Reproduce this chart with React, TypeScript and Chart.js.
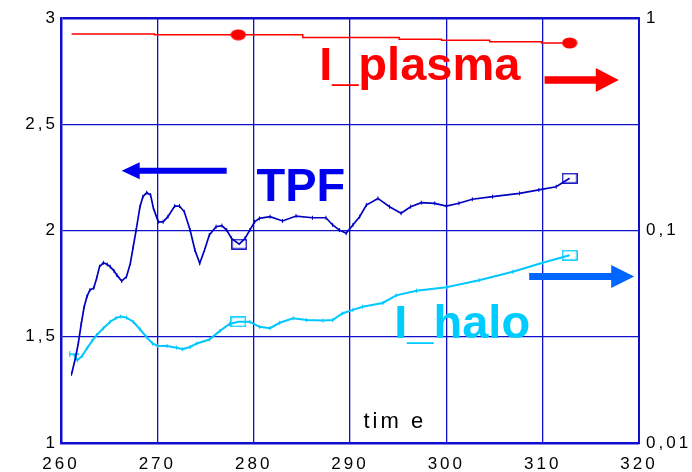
import React, { useEffect, useRef } from 'react';
import { Chart, registerables } from 'chart.js';
Chart.register(...registerables);

// Axis ticks
const xTicks = [260, 270, 280, 290, 300, 310, 320];
const leftTicks = [1, 1.5, 2, 2.5, 3];
const leftTickLabels = ['1', '1,5', '2', '2,5', '3'];
const rightTicks = [0.01, 0.1, 1];
const rightTickLabels = ['0,01', '0,1', '1'];

// TPF (left axis)
const tpfTime = [261.1, 261.5, 261.8, 262.1, 262.4, 262.7, 263.0, 263.4, 263.7, 264.0, 264.4, 264.8, 265.1, 265.5, 265.8, 266.3, 266.8, 267.2, 267.5, 267.8, 268.2, 268.5, 268.9, 269.3, 269.6, 270.1, 270.6, 271.1, 271.8, 272.3, 272.8, 273.4, 273.9, 274.4, 274.9, 275.4, 276.1, 276.7, 277.2, 277.7, 278.5, 279.1, 279.6, 280.1, 280.6, 281.7, 283.0, 284.4, 286.1, 287.5, 288.2, 288.9, 289.6, 290.3, 291.0, 291.7, 292.9, 294.1, 295.3, 296.3, 297.4, 298.8, 300.0, 301.3, 302.7, 304.8, 307.6, 309.6, 311.4, 312.8];
const tpfValue = [1.325, 1.40, 1.47, 1.56, 1.64, 1.69, 1.72, 1.73, 1.775, 1.83, 1.848, 1.84, 1.83, 1.81, 1.79, 1.762, 1.783, 1.846, 1.924, 2.002, 2.112, 2.159, 2.178, 2.167, 2.104, 2.041, 2.041, 2.065, 2.115, 2.115, 2.088, 2.002, 1.908, 1.846, 1.908, 1.979, 2.018, 2.023, 2.002, 1.963, 1.936, 1.963, 2.002, 2.041, 2.057, 2.065, 2.045, 2.068, 2.06, 2.06, 2.026, 2.002, 1.987, 2.026, 2.065, 2.12, 2.151, 2.112, 2.081, 2.112, 2.131, 2.128, 2.115, 2.128, 2.147, 2.159, 2.175, 2.191, 2.206, 2.246];
const tpfSquareAt = [278.5, 312.8];

// I_halo (right log axis)
const haloTime = [261.3, 261.7, 262.2, 262.7, 263.2, 263.7, 264.4, 265.1, 265.7, 266.2, 266.8, 267.5, 268.2, 268.9, 269.5, 270.0, 271.0, 272.0, 272.6, 273.4, 274.1, 275.4, 276.5, 277.5, 278.4, 279.6, 280.6, 281.7, 282.7, 284.1, 285.5, 287.2, 288.2, 289.2, 290.3, 291.3, 293.4, 294.8, 296.9, 300.0, 303.4, 306.9, 310.0, 312.8];
const haloValue = [0.0262, 0.0245, 0.0257, 0.0279, 0.0301, 0.0322, 0.0347, 0.0372, 0.0387, 0.0394, 0.0389, 0.0372, 0.0343, 0.0314, 0.0294, 0.0287, 0.0286, 0.0281, 0.0276, 0.0283, 0.0294, 0.0307, 0.0337, 0.0363, 0.0372, 0.0372, 0.0352, 0.0347, 0.0368, 0.0386, 0.0379, 0.0377, 0.0379, 0.0407, 0.0423, 0.0438, 0.0456, 0.0495, 0.0521, 0.0541, 0.0583, 0.0640, 0.0705, 0.0765];
const haloSquareAt = [278.4, 312.8];
const haloStartAt = [261.3];

// I_plasma (right log axis)
const plasmaTime = [261.1, 269.7, 278.4, 285.1, 295.1, 299.5, 304.5, 309.9, 312.8];
const plasmaValue = [0.841, 0.834, 0.834, 0.81, 0.794, 0.785, 0.774, 0.763, 0.763];
const plasmaDotAt = [278.4, 312.8];

const GRID = '#1010cc';
const FONT = '"Liberation Sans", Arial, Helvetica, sans-serif';

function makeRect(color: string) {
  const c = document.createElement('canvas');
  c.width = 16; c.height = 11;
  const g = c.getContext('2d')!;
  g.strokeStyle = color; g.lineWidth = 1.4;
  g.strokeRect(0.8, 0.8, 14.4, 9.4);
  return c;
}
function makeDot(color: string) {
  const c = document.createElement('canvas');
  c.width = 16; c.height = 12;
  const g = c.getContext('2d')!;
  g.fillStyle = color;
  g.beginPath(); g.ellipse(8, 6, 7.6, 5.6, 0, 0, Math.PI * 2); g.fill();
  return c;
}
function makeH(color: string) {
  const c = document.createElement('canvas');
  c.width = 10; c.height = 8;
  const g = c.getContext('2d')!;
  g.strokeStyle = color; g.lineWidth = 1.3;
  g.beginPath();
  g.moveTo(0, 4); g.lineTo(10, 4);
  g.moveTo(1, 1); g.lineTo(1, 7);
  g.stroke();
  return c;
}

function drawArrow(ctx: CanvasRenderingContext2D, tail: number, tip: number, y: number, color: string, shaft: number, headLen: number, headH: number) {
  const dir = tip > tail ? 1 : -1;
  const base = tip - dir * headLen;
  ctx.fillStyle = color;
  ctx.beginPath();
  ctx.moveTo(tail, y - shaft / 2);
  ctx.lineTo(base, y - shaft / 2);
  ctx.lineTo(base, y - headH / 2);
  ctx.lineTo(tip, y);
  ctx.lineTo(base, y + headH / 2);
  ctx.lineTo(base, y + shaft / 2);
  ctx.lineTo(tail, y + shaft / 2);
  ctx.closePath();
  ctx.fill();
}

const labelPlugin = {
  id: 'labels',
  beforeDraw(chart: any) {
    (chart.ctx as any).letterSpacing = '3px';
  },
  afterDraw(chart: any) {
    const ctx: CanvasRenderingContext2D = chart.ctx;
    const xs = chart.scales.x;
    const ys = chart.scales.y;
    const px = (v: number) => xs.getPixelForValue(v);
    const py = (v: number) => ys.getPixelForValue(v);
    ctx.save();
    (ctx as any).letterSpacing = '0px';
    ctx.textAlign = 'left';
    ctx.textBaseline = 'alphabetic';
    ctx.font = `bold 47px ${FONT}`;
    ctx.fillStyle = '#ff0000';
    ctx.fillText('I_plasma', px(286.8), py(2.708));
    ctx.fillStyle = '#0000ee';
    ctx.fillText('TPF', px(280.3), py(2.139));
    ctx.fillStyle = '#00ccff';
    ctx.fillText('I_halo', px(294.6), py(1.494));

    drawArrow(ctx, px(277.2), px(266.3), py(2.281), '#0000ee', 6, 18, 17);
    drawArrow(ctx, px(310.2), px(317.9), py(2.708), '#ff0000', 7.5, 23, 24);
    drawArrow(ctx, px(308.6), px(319.5), py(1.783), '#0066ff', 7, 23, 23);

    (ctx as any).letterSpacing = '3px';
    ctx.font = `22px ${FONT}`;
    ctx.fillStyle = '#000000';
    ctx.fillText('tim e', px(291.4), py(1.071));
    ctx.restore();
  },
};

export default function App() {
  const ref = useRef<HTMLCanvasElement>(null);
  useEffect(() => {
    const rectBlue = makeRect('#0000c0');
    const rectCyan = makeRect('#00c8ff');
    const dotRed = makeDot('#ff0000');
    const hCyan = makeH('#00c8ff');

    const tpfData = tpfTime.map((t, i) => ({ x: t, y: tpfValue[i] }));
    const haloData = haloTime.map((t, i) => ({ x: t, y: haloValue[i] }));
    const plasmaData = plasmaTime.map((t, i) => ({ x: t, y: plasmaValue[i] }));

    const chart = new Chart(ref.current!, {
      type: 'line',
      data: {
        datasets: [
          {
            label: 'I_plasma',
            data: plasmaData,
            yAxisID: 'y2',
            borderColor: '#ff0000',
            borderWidth: 1.5,
            stepped: true,
            pointStyle: (c: any) => (plasmaDotAt.includes(plasmaTime[c.dataIndex]) ? dotRed : 'circle'),
            pointRadius: (c: any) => (plasmaDotAt.includes(plasmaTime[c.dataIndex]) ? 5 : 0),
          },
          {
            label: 'TPF',
            data: tpfData,
            yAxisID: 'y',
            borderColor: '#0000c0',
            borderWidth: 1.7,
            pointStyle: (c: any) => (tpfSquareAt.includes(tpfTime[c.dataIndex]) ? rectBlue : 'line'),
            pointRotation: (c: any) => (tpfSquareAt.includes(tpfTime[c.dataIndex]) ? 0 : 90),
            pointRadius: 2,
            pointBorderWidth: 1,
            pointBorderColor: '#0000c0',
            pointBackgroundColor: '#0000c0',
          },
          {
            label: 'I_halo',
            data: haloData,
            yAxisID: 'y2',
            borderColor: '#00c8ff',
            borderWidth: 2,
            pointStyle: (c: any) => {
              const t = haloTime[c.dataIndex];
              if (haloSquareAt.includes(t)) return rectCyan;
              if (haloStartAt.includes(t)) return hCyan;
              return 'line';
            },
            pointRotation: (c: any) => {
              const t = haloTime[c.dataIndex];
              return haloSquareAt.includes(t) || haloStartAt.includes(t) ? 0 : 90;
            },
            pointRadius: 2,
            pointBorderWidth: 1,
            pointBorderColor: '#00c8ff',
            pointBackgroundColor: '#00c8ff',
          },
        ],
      },
      options: {
        responsive: false,
        animation: false,
        layout: { padding: { top: 18, left: 0, right: 0, bottom: 0 } },
        plugins: { legend: { display: false }, tooltip: { enabled: false } },
        scales: {
          x: {
            type: 'linear',
            min: 260,
            max: 320,
            afterBuildTicks: (s: any) => { s.ticks = xTicks.map((v) => ({ value: v })); },
            afterFit: (s: any) => { s.height = 29; },
            grid: { color: GRID, lineWidth: 1.3, drawTicks: false },
            border: { display: true, color: GRID, width: 2.5 },
            ticks: {
              padding: 11,
              color: '#000',
              font: { family: FONT, size: 17 },
              autoSkip: false,
              maxRotation: 0,
              callback: (v: any) => String(v),
            },
          },
          y: {
            type: 'linear',
            position: 'left',
            min: 1,
            max: 3,
            afterBuildTicks: (s: any) => { s.ticks = leftTicks.map((v) => ({ value: v })); },
            afterFit: (s: any) => { s.width = 61; },
            grid: {
              color: GRID,
              lineWidth: (c: any) => (c.tick && c.tick.value === 3 ? 2.5 : 1.3),
              drawTicks: false,
            },
            border: { display: true, color: GRID, width: 2.5 },
            ticks: {
              padding: 3,
              color: '#000',
              font: { family: FONT, size: 17 },
              callback: (v: any) => leftTickLabels[leftTicks.indexOf(Number(v))],
            },
          },
          y2: {
            type: 'logarithmic',
            position: 'right',
            min: 0.01,
            max: 1,
            afterBuildTicks: (s: any) => { s.ticks = rightTicks.map((v) => ({ value: v })); },
            afterFit: (s: any) => { s.width = 53; },
            grid: { display: false, drawOnChartArea: false, drawTicks: false },
            border: { display: true, color: GRID, width: 2 },
            ticks: {
              padding: 7,
              color: '#000',
              font: { family: FONT, size: 17 },
              callback: (v: any) => rightTickLabels[rightTicks.findIndex((r) => Math.abs(r - Number(v)) < 1e-9)],
            },
          },
        },
      },
      plugins: [labelPlugin],
    } as any);
    return () => chart.destroy();
  }, []);
  return (
    <div style={{ position: 'fixed', left: 0, top: 0, width: 692, height: 472, background: '#fff' }}>
      <canvas ref={ref} width={692} height={472} style={{ display: 'block' }} />
    </div>
  );
}
